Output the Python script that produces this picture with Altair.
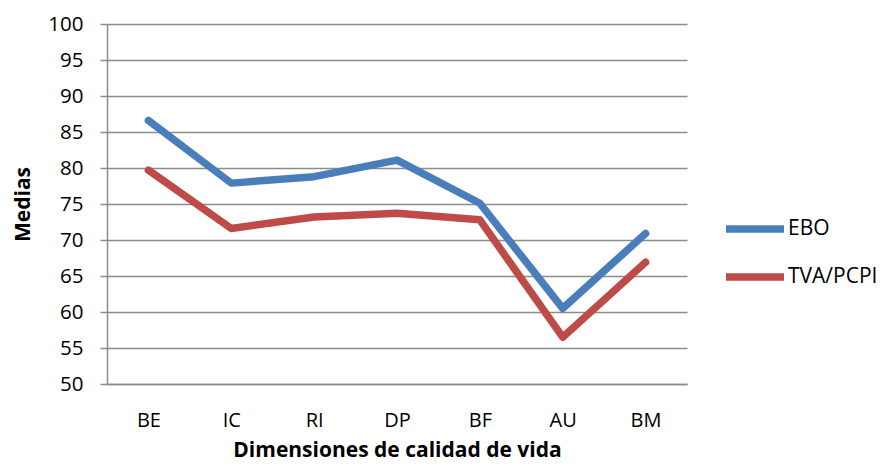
import altair as alt
import pandas as pd

categories = ["BE", "IC", "RI", "DP", "BF", "AU", "BM"]
ebo = [86.6, 77.9, 78.8, 81.1, 75.1, 60.5, 70.9]
tva = [79.7, 71.6, 73.2, 73.7, 72.8, 56.5, 66.9]
series = ["EBO", "TVA/PCPI"]
colors = ["#4A7EBB", "#BE4B48"]
y_ticks = list(range(50, 101, 5))

rows = []
for i, c in enumerate(categories):
    rows.append({"dim": c, "serie": series[0], "media": ebo[i], "orden": i})
    rows.append({"dim": c, "serie": series[1], "media": tva[i], "orden": i})
df = pd.DataFrame(rows)

FONT = "Open Sans"
GRID = "#8C8C8C"

chart = alt.Chart(df).mark_line(
    strokeWidth=7.5, strokeCap="round", strokeJoin="round"
).encode(
    x=alt.X(
        "dim:N", sort=categories, title="Dimensiones de calidad de vida",
        axis=alt.Axis(labelAngle=0, ticks=False, grid=False, domainColor=GRID,
                      domainWidth=1.5, labelPadding=26, titlePadding=9,
                      labelFontSize=20, titleFontSize=21, labelFont=FONT,
                      titleFont=FONT, labelColor="#000", titleColor="#000",
                      titleFontWeight="bold"),
    ),
    y=alt.Y(
        "media:Q", scale=alt.Scale(domain=[50, 100], nice=False, zero=False),
        title="Medias",
        axis=alt.Axis(values=y_ticks, grid=True, gridColor=GRID, gridWidth=1.5,
                      domainColor=GRID, domainWidth=1.5, tickColor=GRID,
                      tickWidth=1.5, tickSize=7, labelPadding=17,
                      titlePadding=14, labelFontSize=20.5, titleFontSize=21,
                      labelFont=FONT, titleFont=FONT, labelColor="#000",
                      titleColor="#000", titleFontWeight="bold"),
    ),
    color=alt.Color(
        "serie:N", scale=alt.Scale(domain=series, range=colors),
        legend=alt.Legend(orient="none", legendX=615, legendY=172, title=None,
                          symbolType="stroke", symbolSize=3364,
                          symbolStrokeWidth=7.5, labelFontSize=21,
                          labelFont=FONT, labelColor="#000", labelOffset=0,
                          rowPadding=0),
    ),
    order=alt.Order("orden:Q"),
).properties(
    width=580, height=360,
    autosize=alt.AutoSizeParams(type="none"),
    padding={"left": 99, "top": 16, "right": 195, "bottom": 86},
    background="white",
).configure_view(stroke=None)

chart.save("out.html", embed_options={"renderer": "svg", "actions": False})
